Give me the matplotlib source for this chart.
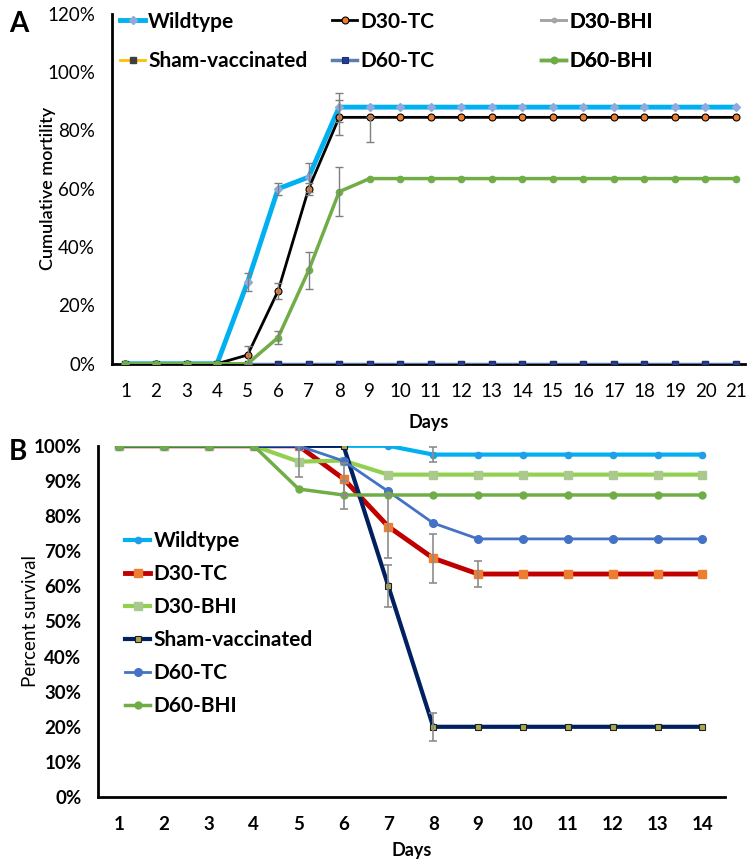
import matplotlib
matplotlib.use("Agg")
import matplotlib.pyplot as plt
from matplotlib.ticker import PercentFormatter

plt.rcParams['font.family'] = ['Lato', 'DejaVu Sans']

# NOTE Panel A data (cumulative mortality, %)
days_a = [1, 2, 3, 4, 5, 6, 7, 8, 9, 10, 11, 12, 13, 14, 15, 16, 17, 18, 19, 20, 21]
wild_a = [0, 0, 0, 0, 28, 60, 64, 88, 88, 88, 88, 88, 88, 88, 88, 88, 88, 88, 88, 88, 88]
d30tc_a = [0, 0, 0, 0, 3, 25, 60, 84.5, 84.5, 84.5, 84.5, 84.5, 84.5, 84.5, 84.5, 84.5, 84.5, 84.5, 84.5, 84.5, 84.5]
d30bhi_a = [0, 0, 0, 0, 0, 0, 0, 0, 0, 0, 0, 0, 0, 0, 0, 0, 0, 0, 0, 0, 0]
sham_a = [0, 0, 0, 0, 0, 0, 0, 0, 0, 0, 0, 0, 0, 0, 0, 0, 0, 0, 0, 0, 0]
d60tc_a = [0, 0, 0, 0, 0, 0, 0, 0, 0, 0, 0, 0, 0, 0, 0, 0, 0, 0, 0, 0, 0]
d60bhi_a = [0, 0, 0, 0, 0, 9, 32, 59, 63.5, 63.5, 63.5, 63.5, 63.5, 63.5, 63.5, 63.5, 63.5, 63.5, 63.5, 63.5, 63.5]
# error bars: (day, value, minus, plus)
err_a = [(5, 28, 3, 3), (6, 60, 2, 2), (7, 64, 5, 5), (8, 88, 5, 5),
         (5, 3, 3, 3), (6, 25, 2.7, 2.7), (7, 60, 2, 2), (8, 84.5, 6, 6), (9, 84.5, 8.5, 0),
         (6, 9, 2.3, 2.3), (7, 32, 6.3, 6.3), (8, 59, 8.3, 8.3)]

# NOTE Panel B data (percent survival, %)
days_b = [1, 2, 3, 4, 5, 6, 7, 8, 9, 10, 11, 12, 13, 14]
wild_b = [100, 100, 100, 100, 100, 100, 100, 97.5, 97.5, 97.5, 97.5, 97.5, 97.5, 97.5]
d30tc_b = [100, 100, 100, 100, 100, 90.6, 77, 68, 63.5, 63.5, 63.5, 63.5, 63.5, 63.5]
d30bhi_b = [100, 100, 100, 100, 95.5, 95.8, 91.8, 91.8, 91.8, 91.8, 91.8, 91.8, 91.8, 91.8]
sham_b = [100, 100, 100, 100, 100, 100, 60, 20, 20, 20, 20, 20, 20, 20]
d60tc_b = [100, 100, 100, 100, 100, 95.7, 87, 78, 73.5, 73.5, 73.5, 73.5, 73.5, 73.5]
d60bhi_b = [100, 100, 100, 100, 87.7, 86, 86, 86, 86, 86, 86, 86, 86, 86]
err_b = [(8, 97.5, 2.2, 2.2),
         (6, 90.6, 4.5, 4.5), (7, 77, 9, 9), (8, 68, 7, 7), (9, 63.5, 3.7, 3.7),
         (5, 95.5, 4.4, 4.4),
         (7, 60, 6, 6), (8, 20, 4, 4),
         (6, 86, 4, 4)]

labels = ["Wildtype", "D30-TC", "D30-BHI", "Sham-vaccinated", "D60-TC", "D60-BHI"]

fig = plt.figure(figsize=(7.55, 8.64), dpi=100)

# ---------------------------------------------------------------- panel A
ax1 = fig.add_axes([0.148, 0.579, 0.839, 0.405])
styles_a = [
    dict(color="#00B0F0", lw=3.5, marker="D", ms=4, mfc="#8FAADC", mec="#8FAADC"),
    dict(color="black", lw=2, marker="o", ms=5, mfc="#ED7D31", mec="black", mew=0.8),
    dict(color="#A5A5A5", lw=2, marker="o", ms=3, mfc="#A5A5A5", mec="#A5A5A5"),
    dict(color="#FFC000", lw=2, marker="s", ms=5, mfc="#404040", mec="#404040"),
    dict(color="#5B7DB1", lw=2.5, marker="s", ms=5, mfc="#203E99", mec="#1F2F6B", mew=0.8),
    dict(color="#70AD47", lw=2.5, marker="o", ms=4.5, mfc="#70AD47", mec="#70AD47"),
]
series_a = [wild_a, d30tc_a, d30bhi_a, sham_a, d60tc_a, d60bhi_a]
handles_a = []
for i, (ys, st) in enumerate(zip(series_a, styles_a)):
    h, = ax1.plot(days_a, ys, label=labels[i], zorder=3 + i, **st)
    handles_a.append(h)
for d, v, lo, hi in err_a:
    ax1.errorbar([d], [v], yerr=[[lo], [hi]], fmt="none", ecolor="#7F7F7F",
                 elinewidth=1, capsize=3, capthick=1, zorder=20)

ax1.set_xlim(0.55, 21.3)
ax1.set_ylim(0, 120)
ax1.set_xticks(days_a)
ax1.set_yticks([0, 20, 40, 60, 80, 100, 120])
ax1.yaxis.set_major_formatter(PercentFormatter(decimals=0))
ax1.tick_params(length=0, labelsize=13.5, pad=14)
ax1.tick_params(axis="y", pad=12)
for s in ["top", "right"]:
    ax1.spines[s].set_visible(False)
ax1.spines["left"].set_linewidth(2)
ax1.spines["bottom"].set_linewidth(2)
ax1.set_xlabel("Days", fontsize=13, fontweight="bold", labelpad=10)
ax1.set_ylabel("Cumulative mortility", fontsize=13, fontweight="semibold", labelpad=-6)

# three legend columns
col_x = [0.0, 0.335, 0.665]
for c in range(3):
    leg = ax1.legend([handles_a[c], handles_a[c + 3]], [labels[c], labels[c + 3]],
                     loc="upper left", bbox_to_anchor=(col_x[c], 1.03), frameon=False,
                     prop=dict(size=15, weight="bold"), handlelength=1.2,
                     handletextpad=0.15, labelspacing=0.95, borderaxespad=0)
    ax1.add_artist(leg)

fig.text(0.012, 0.972, "A", fontsize=20, fontweight="bold", va="center")

# ---------------------------------------------------------------- panel B
ax2 = fig.add_axes([0.130, 0.0775, 0.830, 0.4065])
styles_b = [
    dict(color="#00B0F0", lw=3, marker="o", ms=4.5, mfc="#1E9FE6", mec="#1E9FE6"),
    dict(color="#C00000", lw=3.5, marker="s", ms=6, mfc="#ED7D31", mec="#ED7D31"),
    dict(color="#92D050", lw=3, marker="s", ms=6, mfc="#A9C98E", mec="#A9C98E"),
    dict(color="#002060", lw=3, marker="s", ms=4.5, mfc="#A8A850", mec="#202020", mew=0.8),
    dict(color="#4472C4", lw=2, marker="o", ms=5.5, mfc="#4472C4", mec="#4472C4"),
    dict(color="#70AD47", lw=2.5, marker="o", ms=5, mfc="#70AD47", mec="#70AD47"),
]
series_b = [wild_b, d30tc_b, d30bhi_b, sham_b, d60tc_b, d60bhi_b]
for i, (ys, st) in enumerate(zip(series_b, styles_b)):
    ax2.plot(days_b, ys, label=labels[i], zorder=3 + i, **st)
for d, v, lo, hi in err_b:
    ax2.errorbar([d], [v], yerr=[[lo], [hi]], fmt="none", ecolor="#8C8C8C",
                 elinewidth=1.2, capsize=3, capthick=1.2, zorder=20)

ax2.set_xlim(0.53, 14.5)
ax2.set_ylim(0, 100)
ax2.set_xticks(days_b)
ax2.set_yticks(range(0, 101, 10))
ax2.yaxis.set_major_formatter(PercentFormatter(decimals=0))
ax2.tick_params(length=0, labelsize=13.5, pad=14)
ax2.tick_params(axis="y", pad=12)
for lab in ax2.get_xticklabels() + ax2.get_yticklabels():
    lab.set_fontweight("bold")
for s in ["top", "right"]:
    ax2.spines[s].set_visible(False)
ax2.spines["left"].set_linewidth(2)
ax2.spines["bottom"].set_linewidth(2)
ax2.set_xlabel("Days", fontsize=13, fontweight="bold", labelpad=6)
ax2.set_ylabel("Percent survival", fontsize=13.5, labelpad=-4)
ax2.legend(loc="upper left", bbox_to_anchor=(0.03, 0.78), frameon=False,
           prop=dict(size=15, weight="bold"), handlelength=1.2,
           handletextpad=0.15, labelspacing=0.62, borderaxespad=0)

fig.text(0.012, 0.477, "B", fontsize=20, fontweight="bold", va="center")

fig.savefig("out.png", dpi=100)
